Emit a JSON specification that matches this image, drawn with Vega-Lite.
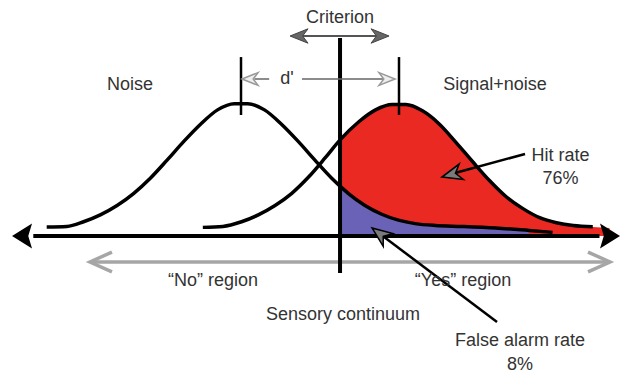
{
  "$schema": "https://vega.github.io/schema/vega-lite/v6.json",
  "width": 625,
  "height": 377,
  "padding": 0,
  "autosize": {"type": "fit", "contains": "padding"},
  "background": "white",
  "config": {"view": {"stroke": null}, "axis": {"disable": true}},
  "datasets": {
    "noise": [
      {"x": -2.9, "y": 0.003}, {"x": -2.6, "y": 0.005}, {"x": -2.35, "y": 0.02}, {"x": -2.1, "y": 0.042},
      {"x": -1.85, "y": 0.072}, {"x": -1.6, "y": 0.111}, {"x": -1.35, "y": 0.16}, {"x": -1.1, "y": 0.218},
      {"x": -0.85, "y": 0.278}, {"x": -0.6, "y": 0.333}, {"x": -0.35, "y": 0.378}, {"x": -0.1, "y": 0.398},
      {"x": 0.1, "y": 0.398}, {"x": 0.35, "y": 0.378}, {"x": 0.6, "y": 0.333}, {"x": 0.85, "y": 0.278},
      {"x": 1.1, "y": 0.218}, {"x": 1.35, "y": 0.16}, {"x": 1.478, "y": 0.134}, {"x": 1.6, "y": 0.111},
      {"x": 1.85, "y": 0.072}, {"x": 2.1, "y": 0.044}, {"x": 2.35, "y": 0.025}, {"x": 2.6, "y": 0.014},
      {"x": 2.9, "y": 0.008}, {"x": 3.3, "y": 0.005}, {"x": 3.8, "y": 0.0}, {"x": 4.3, "y": -0.008}, {"x": 4.65, "y": -0.014}
    ],
    "signal": [
      {"x": -0.57, "y": 0.002}, {"x": -0.27, "y": 0.005}, {"x": 0.008, "y": 0.02}, {"x": 0.258, "y": 0.042},
      {"x": 0.508, "y": 0.072}, {"x": 0.758, "y": 0.111}, {"x": 1.008, "y": 0.163}, {"x": 1.258, "y": 0.225},
      {"x": 1.478, "y": 0.282}, {"x": 1.758, "y": 0.34}, {"x": 2.008, "y": 0.378}, {"x": 2.258, "y": 0.395},
      {"x": 2.458, "y": 0.395}, {"x": 2.708, "y": 0.375}, {"x": 2.958, "y": 0.333}, {"x": 3.208, "y": 0.274},
      {"x": 3.458, "y": 0.212}, {"x": 3.708, "y": 0.152}, {"x": 3.958, "y": 0.1}, {"x": 4.208, "y": 0.062},
      {"x": 4.458, "y": 0.033}, {"x": 4.708, "y": 0.017}, {"x": 4.958, "y": 0.008}, {"x": 5.25, "y": 0.004}
    ],
    "hit": [
      {"x": 1.478, "y": 0.282}, {"x": 1.758, "y": 0.34}, {"x": 2.008, "y": 0.378}, {"x": 2.258, "y": 0.395},
      {"x": 2.458, "y": 0.395}, {"x": 2.708, "y": 0.375}, {"x": 2.958, "y": 0.333}, {"x": 3.208, "y": 0.274},
      {"x": 3.458, "y": 0.212}, {"x": 3.708, "y": 0.152}, {"x": 3.958, "y": 0.1}, {"x": 4.208, "y": 0.062},
      {"x": 4.458, "y": 0.033}, {"x": 4.708, "y": 0.017}, {"x": 4.958, "y": 0.008}, {"x": 5.25, "y": 0.003},
      {"x": 5.5, "y": 0.0}
    ],
    "segments": [
      {"kind": "axis", "x": -3.1, "y": -0.0256, "x2": 5.35, "y2": -0.0256},
      {"kind": "region", "x": -2.2, "y": -0.1088, "x2": 5.45, "y2": -0.1088},
      {"kind": "criterion", "x": 1.478, "y": 0.608, "x2": 1.478, "y2": -0.144},
      {"kind": "tick", "x": 0, "y": 0.547, "x2": 0, "y2": 0.3616},
      {"kind": "tick", "x": 2.358, "y": 0.547, "x2": 2.358, "y2": 0.3616},
      {"kind": "critArrow", "x": 0.8, "y": 0.6144, "x2": 2.14, "y2": 0.6144},
      {"kind": "dprime", "x": 0.2, "y": 0.4768, "x2": 0.42, "y2": 0.4768},
      {"kind": "dprime", "x": 0.91, "y": 0.4768, "x2": 2.2, "y2": 0.4768},
      {"kind": "pointer", "x": 4.239, "y": 0.2368, "x2": 3.194, "y2": 0.176},
      {"kind": "pointer", "x": 3.821, "y": -0.3008, "x2": 2.1, "y2": -0.023}
    ],
    "heads": [
      {"kind": "axisL", "x": -3.231, "y": -0.0256},
      {"kind": "axisR", "x": 5.47, "y": -0.0256},
      {"kind": "regionL", "x": -2.09, "y": -0.1088},
      {"kind": "regionR", "x": 5.343, "y": -0.1088},
      {"kind": "critL", "x": 0.866, "y": 0.6144},
      {"kind": "critR", "x": 2.075, "y": 0.6144},
      {"kind": "dL", "x": 0.134, "y": 0.4768},
      {"kind": "dR", "x": 2.179, "y": 0.4768},
      {"kind": "hit", "x": 3.143, "y": 0.1715},
      {"kind": "fa", "x": 2.075, "y": -0.0192}
    ],
    "labels": [
      {"text": "Criterion", "x": 1.478, "y": 0.672},
      {"text": "Noise", "x": -1.657, "y": 0.4576},
      {"text": "Signal+noise", "x": 3.791, "y": 0.4576},
      {"text": "d'", "x": 0.687, "y": 0.4768},
      {"text": "Hit rate", "x": 4.77, "y": 0.2304},
      {"text": "76%", "x": 4.77, "y": 0.1568},
      {"text": "“No” region", "x": -0.418, "y": -0.1696},
      {"text": "“Yes” region", "x": 3.313, "y": -0.1696},
      {"text": "Sensory continuum", "x": 1.522, "y": -0.2784},
      {"text": "False alarm rate", "x": 4.164, "y": -0.3616},
      {"text": "8%", "x": 4.164, "y": -0.4384}
    ]
  },
  "encoding": {
    "x": {"field": "x", "type": "quantitative", "scale": {"domain": [-3.597, 5.731], "nice": false, "zero": false}},
    "y": {"field": "y", "type": "quantitative", "scale": {"domain": [-0.4768, 0.7296], "nice": false, "zero": false}}
  },
  "layer": [
    {"data": {"name": "hit"}, "mark": {"type": "area", "color": "#ea2a22", "interpolate": "monotone"}, "encoding": {"y2": {"datum": -0.0256}}},
    {"data": {"name": "noise"}, "transform": [{"filter": "datum.x >= 1.478 && datum.x <= 4.3"}], "mark": {"type": "area", "color": "#6a62b6", "interpolate": "monotone"}, "encoding": {"y2": {"datum": -0.0256}}},
    {"data": {"name": "noise"}, "mark": {"type": "line", "color": "black", "strokeWidth": 3.5, "interpolate": "monotone"}, "encoding": {}},
    {"data": {"name": "signal"}, "mark": {"type": "line", "color": "black", "strokeWidth": 3.5, "interpolate": "monotone"}, "encoding": {}},
    {"data": {"name": "segments"}, "transform": [{"filter": "datum.kind === 'axis'"}], "mark": {"type": "rule", "color": "black", "strokeWidth": 4}, "encoding": {"x2": {"field": "x2"}, "y2": {"field": "y2"}}},
    {"data": {"name": "segments"}, "transform": [{"filter": "datum.kind === 'region'"}], "mark": {"type": "rule", "color": "#a6a6a6", "strokeWidth": 3.5}, "encoding": {"x2": {"field": "x2"}, "y2": {"field": "y2"}}},
    {"data": {"name": "segments"}, "transform": [{"filter": "datum.kind === 'criterion'"}], "mark": {"type": "rule", "color": "black", "strokeWidth": 4}, "encoding": {"x2": {"field": "x2"}, "y2": {"field": "y2"}}},
    {"data": {"name": "segments"}, "transform": [{"filter": "datum.kind === 'tick'"}], "mark": {"type": "rule", "color": "black", "strokeWidth": 2.5}, "encoding": {"x2": {"field": "x2"}, "y2": {"field": "y2"}}},
    {"data": {"name": "segments"}, "transform": [{"filter": "datum.kind === 'critArrow'"}], "mark": {"type": "rule", "color": "#555555", "strokeWidth": 2}, "encoding": {"x2": {"field": "x2"}, "y2": {"field": "y2"}}},
    {"data": {"name": "segments"}, "transform": [{"filter": "datum.kind === 'dprime'"}], "mark": {"type": "rule", "color": "#666666", "strokeWidth": 1.5}, "encoding": {"x2": {"field": "x2"}, "y2": {"field": "y2"}}},
    {"data": {"name": "segments"}, "transform": [{"filter": "datum.kind === 'pointer'"}], "mark": {"type": "rule", "color": "black", "strokeWidth": 2.5}, "encoding": {"x2": {"field": "x2"}, "y2": {"field": "y2"}}},
    {"data": {"name": "heads"}, "transform": [{"filter": "datum.kind === 'axisR'"}], "mark": {"type": "point", "shape": "M 1 0 L -0.6 -1 L -0.3 0 L -0.6 1 Z", "size": 625, "filled": true, "color": "black", "opacity": 1, "angle": 0}, "encoding": {}},
    {"data": {"name": "heads"}, "transform": [{"filter": "datum.kind === 'axisL'"}], "mark": {"type": "point", "shape": "M 1 0 L -0.6 -1 L -0.3 0 L -0.6 1 Z", "size": 625, "filled": true, "color": "black", "opacity": 1, "angle": 180}, "encoding": {}},
    {"data": {"name": "heads"}, "transform": [{"filter": "datum.kind === 'regionL'"}], "mark": {"type": "point", "shape": "M 1 -0.9 L -1 0 L 1 0.9", "size": 484, "filled": false, "stroke": "#a6a6a6", "strokeWidth": 3.5, "opacity": 1, "angle": 0}, "encoding": {}},
    {"data": {"name": "heads"}, "transform": [{"filter": "datum.kind === 'regionR'"}], "mark": {"type": "point", "shape": "M 1 -0.9 L -1 0 L 1 0.9", "size": 484, "filled": false, "stroke": "#a6a6a6", "strokeWidth": 3.5, "opacity": 1, "angle": 180}, "encoding": {}},
    {"data": {"name": "heads"}, "transform": [{"filter": "datum.kind === 'critL'"}], "mark": {"type": "point", "shape": "M -1 0 L 1 -0.8 L 0.4 0 L 1 0.8 Z", "size": 324, "filled": true, "fill": "#666666", "stroke": "#444444", "strokeWidth": 1, "opacity": 1, "angle": 0}, "encoding": {}},
    {"data": {"name": "heads"}, "transform": [{"filter": "datum.kind === 'critR'"}], "mark": {"type": "point", "shape": "M -1 0 L 1 -0.8 L 0.4 0 L 1 0.8 Z", "size": 324, "filled": true, "fill": "#666666", "stroke": "#444444", "strokeWidth": 1, "opacity": 1, "angle": 180}, "encoding": {}},
    {"data": {"name": "heads"}, "transform": [{"filter": "datum.kind === 'dL'"}], "mark": {"type": "point", "shape": "M -1 0 L 1 -0.8 L 0.4 0 L 1 0.8 Z", "size": 256, "filled": true, "fill": "#eeeeee", "stroke": "#999999", "strokeWidth": 1.5, "opacity": 1, "angle": 0}, "encoding": {}},
    {"data": {"name": "heads"}, "transform": [{"filter": "datum.kind === 'dR'"}], "mark": {"type": "point", "shape": "M -1 0 L 1 -0.8 L 0.4 0 L 1 0.8 Z", "size": 256, "filled": true, "fill": "#eeeeee", "stroke": "#999999", "strokeWidth": 1.5, "opacity": 1, "angle": 180}, "encoding": {}},
    {"data": {"name": "heads"}, "transform": [{"filter": "datum.kind === 'hit'"}], "mark": {"type": "point", "shape": "M 1 0 L -1 -0.8 L -0.4 0 L -1 0.8 Z", "size": 400, "filled": true, "fill": "#7a7a7a", "stroke": "black", "strokeWidth": 1.5, "opacity": 1, "angle": 164.8}, "encoding": {}},
    {"data": {"name": "heads"}, "transform": [{"filter": "datum.kind === 'fa'"}], "mark": {"type": "point", "shape": "M 1 0 L -1 -0.8 L -0.4 0 L -1 0.8 Z", "size": 400, "filled": true, "fill": "#7a7a7a", "stroke": "black", "strokeWidth": 1.5, "opacity": 1, "angle": 217}, "encoding": {}},
    {"data": {"name": "labels"}, "mark": {"type": "text", "font": "Liberation Sans", "fontSize": 18, "color": "#333333", "align": "center", "baseline": "middle"}, "encoding": {"text": {"field": "text"}}}
  ]
}
